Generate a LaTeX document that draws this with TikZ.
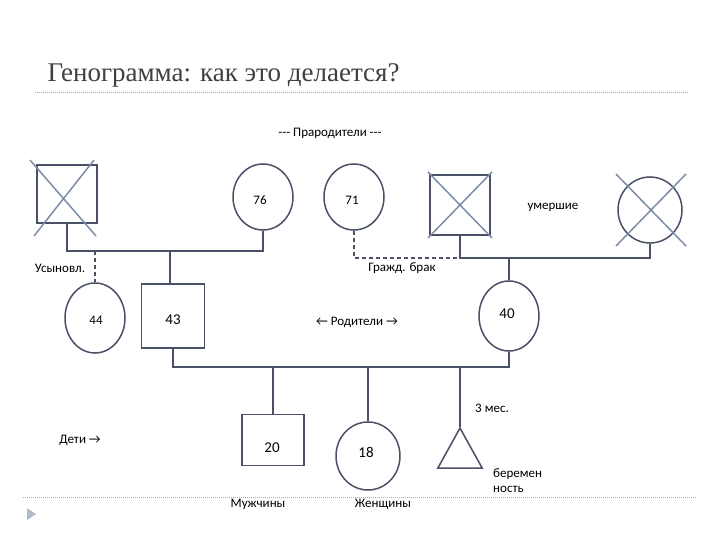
\documentclass[tikz,border=0pt]{standalone}
\usepackage{fontspec}
\setmainfont{Carlito}
\newfontfamily\titlefont{Liberation Serif}
\usetikzlibrary{shapes.geometric}
\definecolor{ln}{HTML}{4A5066}
\definecolor{cr}{HTML}{7D8CA8}
\definecolor{tt}{HTML}{404040}
\begin{document}
\begin{tikzpicture}[x=1pt,y=-1pt,
  ln/.style={draw=ln,line width=1.5pt},
  dln/.style={draw=ln,line width=1.5pt,dash pattern=on 4pt off 3pt},
  crs/.style={draw=cr,line width=1.5pt},
  sq/.style={ln,rectangle,fill=white,inner sep=0pt},
  ci/.style={ln,ellipse,fill=white,inner sep=0pt,minimum width=60pt,minimum height=66pt},
  lab/.style={font=\fontsize{13}{15}\selectfont,text=black,inner sep=1pt}]
\useasboundingbox (0,0) rectangle (720,540);
% title
\node[anchor=base west,font=\titlefont\fontsize{27}{30}\selectfont,text=tt] (title) at (44,82) {Генограмма: как это делается?};
\draw[cr!70,dash pattern=on 1pt off 1pt,line width=0.6pt] (35,92) coordinate (t1) -- (688,92) coordinate (t2);
\draw[cr!70,dash pattern=on 1pt off 1pt,line width=0.6pt] (23,497) coordinate (b1) -- (697,497) coordinate (b2);
\fill[cr!60] (27,508) -- (36,514) -- (27,520) -- cycle;
\node[lab] (prarod) at (330,133) {{-}{-}{-} Прародители {-}{-}{-}};
% grandparents
\node[sq,minimum width=60pt,minimum height=58pt] (gf1) at (67,194) {};
\draw[crs] (30,160) -- (96,236) (94,160) -- (34,236);
\node[ci] (gm1) at (263,197) {}; \node[lab] at (260,200) {76};
\node[ci] (gm2) at (354,197) {}; \node[lab] at (352,200) {71};
\node[sq,minimum width=60pt,minimum height=60pt] (gf2) at (460,205) {};
\draw[crs] (428,172) -- (492,238) (492,172) -- (428,238);
\node[lab] (um) at (553,207) {умершие};
\node[ci,minimum width=64pt,minimum height=66pt] (gm3) at (650,210) {};
\draw[crs] (616,174) -- (686,246) (686,174) -- (616,246);
% generation 2
\node[ci,minimum height=70pt] (m44) at (95,318) {}; \node[lab] at (96,320) {44};
\node[sq,minimum width=63pt,minimum height=64pt] (f43) at (173,316) {}; \node[lab,font=\fontsize{15}{17}\selectfont] at (173,320) {43};
\node[ci,minimum height=70pt] (m40) at (509,316) {}; \node[lab,font=\fontsize{15}{17}\selectfont] at (507,314) {40};
\node[lab] (rod) at (357,322) {← Родители →};
\node[lab] (us) at (60,268) {Усыновл.};
\node[lab] (gb) at (402,268) {Гражд. брак};
% connectors generation 1
\coordinate (j1) at (67,251); \coordinate (j2) at (263,251); \coordinate (j3) at (170,251); \coordinate (j4) at (95,251);
\draw[ln] (gf1.south) -- (j1) -- (j2) -- (gm1.south);
\draw[ln] (j3) -- (j3 |- f43.north);
\draw[dln] (j4) -- (m44.north);
\coordinate (k1) at (354,258); \coordinate (k2) at (460,258); \coordinate (k3) at (650,258); \coordinate (k4) at (509,258);
\draw[dln] (gm2.south) -- (k1) -- (k2);
\draw[ln] (gf2.south) -- (k2) -- (k3) -- (gm3.south);
\draw[ln] (k4) -- (m40.north);
% children
\coordinate (c1) at (173,367); \coordinate (c2) at (509,367);
\draw[ln] (f43.south) -- (c1) -- (c2) -- (m40.south);
\node[sq,minimum width=62pt,minimum height=51pt] (s20) at (273,440) {}; \node[lab,font=\fontsize{15}{17}\selectfont] at (272,448) {20};
\node[ci,minimum width=64pt,minimum height=68pt] (d18) at (368,456) {};
\node[lab,font=\fontsize{15}{17}\selectfont] at (366,452) {18};
\node[ln,isosceles triangle,isosceles triangle apex angle=58,shape border rotate=90,minimum height=40pt,inner sep=0pt,fill=white] (tri) at (460,455) {};
\coordinate (d1) at (273,367); \coordinate (d2) at (368,367); \coordinate (d3) at (460,367);
\draw[ln] (d1) -- (s20.north);
\draw[ln] (d2) -- (d18.north);
\draw[ln] (d3) -- (tri.apex);
\node[lab] (mes) at (492,408) {3 мес.};
\node[lab] (det) at (80,440) {Дети →};
\node[lab] (mu) at (258,504) {Мужчины};
\node[lab] (zh) at (383,504) {Женщины};
\node[lab,anchor=west,align=left] (ber) at (492,481) {беремен\\ность};
\end{tikzpicture}
\end{document}
